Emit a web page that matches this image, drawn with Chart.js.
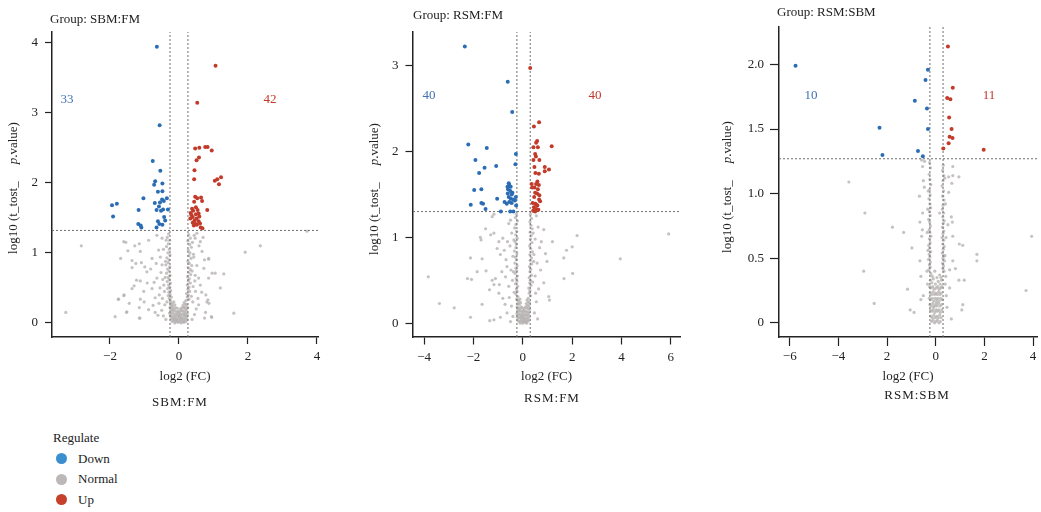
<!DOCTYPE html>
<html>
<head>
<meta charset="utf-8">
<script src="https://cdn.jsdelivr.net/npm/chart.js@4.4.1/dist/chart.umd.min.js"></script>
<style>
  body { margin: 0; background: #fff; width: 1041px; height: 512px; position: relative; overflow: hidden; font-family: "Liberation Serif", serif; color: #222; }
  canvas { position: absolute; top: 0; }
  #c1 { left: 0; }
  #c2 { left: 340px; }
  #c3 { left: 700px; }
  .legend { position: absolute; left: 53px; top: 428px; font-size: 13px; line-height: 20.5px; }
  .legend .item { display: flex; align-items: center; margin-left: 3px; }
  .legend .dot { width: 11px; height: 11px; border-radius: 50%; margin-right: 11px; }
</style>
</head>
<body>
<canvas id="c1" width="340" height="420"></canvas>
<canvas id="c2" width="350" height="420"></canvas>
<canvas id="c3" width="341" height="420"></canvas>
<div class="legend">
  <div>Regulate</div>
  <div class="item"><span class="dot" style="background:#3a8fcf"></span>Down</div>
  <div class="item"><span class="dot" style="background:#bcb8b8"></span>Normal</div>
  <div class="item"><span class="dot" style="background:#c6402b"></span>Up</div>
</div>
<script>
// comparisons and summary numbers
const groups = ['SBM:FM', 'RSM:FM', 'RSM:SBM'];
const downCounts = [33, 40, 10];
const upCounts = [42, 40, 11];
const fcCutoffs = [[-0.26, 0.26], [-0.24, 0.30], [-0.24, 0.30]];
const pCutoffs = [1.32, 1.30, 1.27];

// tick values and labels (the third panel really reads "2" at -2)
const xTicks = [[-2, 0, 2, 4], [-4, -2, 0, 2, 4, 6], [-6, -4, -2, 0, 2, 4]];
const xTickLabels = [['−2', '0', '2', '4'], ['−4', '−2', '0', '2', '4', '6'], ['−6', '−4', '2', '0', '2', '4']];
const yTicks = [[0, 1, 2, 3, 4], [0, 1, 2, 3], [0, 0.5, 1, 1.5, 2]];
const yTickLabels = [['0', '1', '2', '3', '4'], ['0', '1', '2', '3'], ['0', '0.5', '1.0', '1.5', '2.0']];

// ---- SBM:FM  [log2FC, -log10 p]
const down1 = [[-0.64,3.94],[-0.56,2.82],[-0.76,2.31],[-0.54,2.17],[-0.69,2.02],[-0.72,1.97],[-0.48,1.99],[-0.61,1.87],[-0.48,1.88],[-1.03,1.78],[-0.35,1.78],[-0.49,1.76],[-0.44,1.74],[-1.94,1.68],[-1.80,1.70],[-0.70,1.71],[-0.55,1.72],[-0.58,1.66],[-0.65,1.61],[-0.46,1.62],[-0.32,1.62],[-1.17,1.61],[-0.52,1.60],[-1.91,1.52],[-0.43,1.51],[-0.40,1.46],[-0.61,1.45],[-1.18,1.41],[-1.11,1.39],[-1.09,1.36],[-0.48,1.40],[-0.57,1.41],[-0.65,1.36]];
const up1 = [[1.06,3.67],[0.53,3.14],[0.47,2.49],[0.59,2.50],[0.76,2.51],[0.83,2.51],[0.95,2.46],[0.58,2.36],[0.51,2.32],[0.45,2.18],[0.44,2.05],[1.11,2.05],[1.22,2.08],[1.04,2.03],[1.16,1.98],[0.47,1.80],[0.53,1.78],[0.64,1.79],[0.67,1.74],[0.44,1.73],[0.49,1.65],[0.38,1.63],[0.54,1.61],[0.41,1.60],[0.82,1.61],[0.34,1.57],[0.49,1.55],[0.57,1.56],[0.40,1.51],[0.51,1.49],[0.33,1.49],[0.45,1.46],[0.57,1.45],[0.40,1.43],[0.48,1.41],[0.61,1.42],[0.43,1.39],[0.52,1.40],[0.63,1.36],[0.68,1.35],[0.36,1.54],[0.59,1.52]];
const normal1 = [[-2.83,1.10],[-3.28,0.15],[-1.85,0.09],[-1.60,1.16],[-1.48,1.03],[-1.69,0.92],[-1.28,1.10],[-1.15,1.13],[-1.12,1.02],[-1.36,0.89],[-1.25,0.85],[-1.09,0.86],[-1.36,0.79],[-0.99,0.80],[-0.88,1.18],[-0.78,0.92],[-0.82,0.77],[-0.93,0.73],[-1.12,0.60],[-1.30,0.53],[-1.36,0.49],[-0.92,0.57],[-0.78,0.49],[-1.60,0.39],[-1.75,0.34],[-1.02,0.45],[-1.12,0.34],[-1.44,0.28],[-1.01,0.30],[-1.15,0.22],[-0.88,0.19],[-1.51,0.16],[-1.15,0.07],[-0.69,0.15],[-0.61,0.11],[-0.64,0.64],[-0.57,0.40],[-0.69,0.36],[-0.59,1.04],[-0.54,0.94],[-0.49,1.21],[-0.64,1.25],[-0.49,0.83],[-0.44,0.54],[-0.41,0.26],[-1.54,1.15],[-1.59,0.40],[-1.76,0.34],[-1.52,0.15],[-1.23,0.61],[-1.13,0.07],
  [1.92,1.01],[2.36,1.10],[1.59,0.14],[3.71,1.31],[1.30,0.70],[1.20,0.50],[1.05,0.71],[0.96,0.71],[0.86,0.64],[0.74,0.90],[0.86,0.92],[0.62,1.16],[0.67,1.02],[0.72,0.78],[0.78,0.40],[0.81,0.30],[0.94,0.09],[0.74,0.07],[0.57,0.26],[0.62,0.54],[0.52,1.28],[0.47,1.21],[0.43,0.94],[0.47,0.68],[0.57,0.64],[0.84,0.33],[0.87,0.28],[0.77,0.15],[0.95,0.08],[0.86,0.91],
  [-0.30,1.27],[-0.34,1.22],[-0.27,1.18],[-0.31,1.13],[-0.36,1.09],[-0.28,1.05],[-0.32,1.00],[-0.26,0.97],[-0.35,0.93],[-0.29,0.90],[-0.31,0.86],[-0.38,0.83],[-0.27,0.80],[-0.33,0.77],[-0.29,0.74],[-0.36,0.71],[-0.26,0.68],[-0.31,0.65],[-0.28,0.62],[-0.34,0.59],[-0.25,0.57],[-0.30,0.54],[-0.27,0.51],[-0.33,0.49],[-0.24,0.46],[-0.29,0.44],[-0.26,0.41],[-0.31,0.39],[-0.22,0.37],[-0.28,0.35],[-0.25,0.32],[-0.35,0.30],[-0.40,0.65],[-0.42,0.45],[-0.39,0.88],[-0.45,1.05],[-0.37,1.18],
  [0.28,1.26],[0.33,1.21],[0.26,1.17],[0.31,1.12],[0.36,1.08],[0.27,1.04],[0.32,1.00],[0.29,0.96],[0.35,0.92],[0.26,0.88],[0.30,0.85],[0.37,0.82],[0.27,0.79],[0.33,0.76],[0.28,0.72],[0.34,0.69],[0.25,0.66],[0.30,0.63],[0.27,0.60],[0.33,0.57],[0.24,0.54],[0.29,0.51],[0.26,0.48],[0.31,0.45],[0.22,0.42],[0.27,0.40],[0.24,0.37],[0.29,0.34],[0.20,0.32],[0.39,1.15],[0.42,0.98],[0.38,0.74],[0.41,0.52],[0.36,0.38],[0.44,1.25],[0.40,0.30],
  [-0.25,0.29],[-0.20,0.28],[-0.15,0.30],[0.15,0.29],[0.19,0.27],[-0.23,0.25],[-0.18,0.24],[-0.12,0.26],[0.12,0.25],[0.17,0.23],[0.22,0.26],[-0.26,0.22],[-0.21,0.21],[-0.16,0.20],[-0.10,0.22],[-0.05,0.21],[0.04,0.20],[0.09,0.22],[0.14,0.21],[0.20,0.20],[0.25,0.22],[-0.24,0.18],[-0.19,0.17],[-0.13,0.18],[-0.08,0.16],[-0.03,0.17],[0.02,0.16],[0.07,0.18],[0.11,0.17],[0.16,0.16],[0.21,0.18],[-0.27,0.14],[-0.22,0.13],[-0.17,0.14],[-0.11,0.12],[-0.06,0.13],[0.00,0.14],[0.05,0.12],[0.10,0.13],[0.15,0.12],[0.19,0.14],[0.24,0.13],[-0.25,0.10],[-0.20,0.09],[-0.14,0.10],[-0.09,0.08],[-0.04,0.10],[0.01,0.09],[0.06,0.10],[0.12,0.08],[0.17,0.10],[0.22,0.09],[-0.23,0.06],[-0.18,0.05],[-0.12,0.06],[-0.07,0.05],[-0.02,0.06],[0.03,0.05],[0.08,0.06],[0.13,0.05],[0.18,0.06],[0.23,0.05],[-0.20,0.02],[-0.15,0.03],[-0.10,0.02],[-0.05,0.03],[0.00,0.02],[0.05,0.03],[0.10,0.02],[0.15,0.03],[0.20,0.02],[-0.12,0.00],[-0.03,0.01],[0.06,0.00],[0.14,0.01],[-0.08,0.04],[0.04,0.07],[-0.01,0.11],[-0.16,0.07],[0.18,0.11],
  [-0.52,0.72],[-0.47,0.62],[-0.55,0.50],[-0.48,0.35],[-0.58,0.28],[-0.50,0.18],[-0.45,0.10],[-0.38,0.05],[0.38,0.05],[0.45,0.12],[0.50,0.20],[0.55,0.35],[0.48,0.45],[0.52,0.82],[0.46,0.60],[0.58,1.10],[-0.72,0.58],[-0.66,0.85],[-0.75,0.25],[0.66,0.44],[0.70,1.22]];

// ---- RSM:FM
const down2 = [[-2.35,3.22],[-0.61,2.81],[-0.43,2.46],[-2.21,2.08],[-1.46,2.04],[-0.28,1.97],[-1.92,1.90],[-0.30,1.85],[-1.08,1.83],[-1.55,1.81],[-1.77,1.75],[-0.55,1.61],[-0.49,1.59],[-1.97,1.55],[-1.68,1.56],[-0.60,1.56],[-0.51,1.54],[-0.61,1.51],[-0.45,1.50],[-0.28,1.47],[-0.57,1.47],[-1.04,1.45],[-0.49,1.45],[-0.32,1.43],[-0.74,1.41],[-0.55,1.41],[-0.45,1.40],[-2.11,1.38],[-1.68,1.40],[-1.61,1.39],[-0.27,1.37],[-1.51,1.33],[-0.89,1.30],[-0.51,1.30],[-0.38,1.30],[-0.65,1.39],[-0.39,1.44],[-0.62,1.59],[-0.57,1.63],[-0.42,1.52]];
const up2 = [[0.30,2.97],[0.66,2.34],[0.45,2.29],[0.58,2.12],[0.54,2.10],[1.17,2.06],[0.43,2.05],[0.61,2.05],[0.50,1.97],[0.53,1.94],[0.43,1.90],[0.67,1.90],[0.89,1.82],[1.06,1.79],[0.89,1.77],[0.51,1.75],[0.65,1.74],[0.36,1.62],[0.54,1.62],[0.65,1.61],[0.47,1.58],[0.61,1.56],[0.50,1.52],[0.58,1.51],[0.66,1.44],[0.70,1.42],[0.40,1.40],[0.51,1.39],[0.59,1.37],[0.45,1.35],[0.54,1.33],[0.63,1.32],[0.42,1.31],[0.50,1.30],[0.38,1.58],[0.59,1.65],[0.46,1.47],[0.67,1.49],[0.55,1.38],[0.47,1.82]];
const normal2 = [[5.91,1.04],[3.95,0.75],[2.20,1.02],[2.00,0.89],[1.77,0.85],[1.66,0.76],[2.02,0.58],[1.67,0.52],[1.05,0.31],[1.08,0.27],[0.98,0.72],[0.92,0.81],[0.85,0.47],[0.85,1.09],[-3.83,0.54],[-3.38,0.23],[-2.78,0.18],[-2.12,0.07],[-2.12,0.76],[-1.65,0.75],[-1.72,1.00],[-1.69,0.97],[-1.51,1.10],[-1.30,1.03],[-1.17,1.05],[-0.97,0.95],[-0.81,0.99],[-2.24,0.52],[-2.08,0.51],[-1.85,0.60],[-1.49,0.61],[-1.24,0.50],[-1.11,0.52],[-1.35,0.39],[-1.17,0.45],[-1.65,0.22],[-1.34,0.03],[-1.17,0.04],[-0.91,0.07],[-0.97,0.35],[-0.81,0.29],[-0.64,0.12],[-1.04,0.87],[-0.91,0.80],[-0.68,0.74],[-0.64,0.66],[-0.57,0.43],[-0.70,0.54],[-1.24,1.24],[-1.17,1.27],[-0.57,1.16],[-0.50,1.20],
  [0.55,1.25],[0.62,1.12],[0.50,0.98],[0.68,0.88],[0.58,0.70],[0.72,0.62],[0.50,0.55],[0.64,0.40],[0.55,0.25],[0.47,0.12],[0.60,0.05],[0.75,0.95],[0.45,0.80],[0.52,0.35],[1.20,0.95],
  [-0.45,1.05],[-0.52,0.90],[-0.40,0.78],[-0.48,0.62],[-0.42,0.50],[-0.55,0.30],[-0.46,0.20],[-0.40,0.08],[-0.62,0.95],[-0.75,0.85],[-0.85,0.60],[-0.95,0.45],[-0.72,0.22],[-0.50,0.02],
  [-0.26,1.27],[-0.30,1.23],[-0.22,1.19],[-0.28,1.15],[-0.33,1.11],[-0.25,1.07],[-0.29,1.03],[-0.23,0.99],[-0.31,0.95],[-0.26,0.92],[-0.28,0.88],[-0.34,0.84],[-0.24,0.81],[-0.30,0.77],[-0.26,0.74],[-0.32,0.70],[-0.23,0.67],[-0.28,0.64],[-0.25,0.61],[-0.31,0.58],[-0.22,0.55],[-0.27,0.52],[-0.24,0.49],[-0.30,0.46],[-0.21,0.43],[-0.26,0.40],[-0.23,0.37],[-0.28,0.34],[-0.20,0.31],[-0.25,0.28],[-0.36,0.97],[-0.38,0.60],[-0.35,0.36],
  [0.31,1.27],[0.35,1.22],[0.29,1.18],[0.33,1.14],[0.38,1.10],[0.30,1.06],[0.34,1.02],[0.31,0.98],[0.37,0.94],[0.28,0.90],[0.32,0.87],[0.39,0.83],[0.29,0.80],[0.35,0.76],[0.30,0.73],[0.36,0.69],[0.27,0.66],[0.32,0.63],[0.29,0.60],[0.35,0.56],[0.26,0.53],[0.31,0.50],[0.28,0.47],[0.33,0.44],[0.24,0.41],[0.29,0.38],[0.26,0.35],[0.31,0.32],[0.22,0.29],[0.42,1.05],[0.44,0.72],[0.40,0.48],
  [-0.22,0.27],[-0.17,0.26],[-0.12,0.28],[0.17,0.27],[0.22,0.25],[0.27,0.24],[-0.20,0.23],[-0.15,0.22],[-0.09,0.24],[0.14,0.23],[0.19,0.21],[0.25,0.20],[-0.23,0.19],[-0.18,0.18],[-0.13,0.17],[-0.07,0.19],[-0.02,0.18],[0.06,0.17],[0.11,0.19],[0.16,0.18],[0.22,0.17],[0.27,0.16],[-0.21,0.15],[-0.16,0.14],[-0.10,0.15],[-0.05,0.13],[0.00,0.14],[0.04,0.15],[0.09,0.13],[0.14,0.14],[0.19,0.13],[0.24,0.12],[-0.24,0.11],[-0.19,0.10],[-0.14,0.11],[-0.08,0.09],[-0.03,0.10],[0.02,0.11],[0.07,0.09],[0.12,0.10],[0.17,0.09],[0.22,0.10],[-0.22,0.07],[-0.17,0.06],[-0.11,0.07],[-0.06,0.05],[-0.01,0.06],[0.04,0.07],[0.09,0.05],[0.15,0.06],[0.20,0.05],[0.25,0.07],[-0.19,0.03],[-0.14,0.02],[-0.08,0.03],[-0.03,0.02],[0.02,0.03],[0.07,0.02],[0.12,0.03],[0.18,0.02],[0.23,0.03],[-0.10,0.00],[0.00,0.00],[0.10,0.01],[0.16,0.00],[-0.05,0.08],[0.05,0.04]];

// ---- RSM:SBM
const down3 = [[-5.76,1.99],[-0.32,1.96],[-0.42,1.88],[-0.86,1.72],[-0.36,1.66],[-2.31,1.51],[-0.32,1.50],[-2.19,1.30],[-0.73,1.33],[-0.53,1.29]];
const up3 = [[0.50,2.14],[0.70,1.82],[0.47,1.74],[0.60,1.73],[0.55,1.59],[0.65,1.50],[0.57,1.44],[0.69,1.43],[0.53,1.39],[0.31,1.35],[1.97,1.34]];
const normal3 = [[-3.57,1.09],[-2.91,0.85],[-2.96,0.40],[-2.53,0.15],[-1.78,0.74],[-1.32,0.70],[-0.98,0.58],[-1.16,0.26],[-1.05,0.10],[-0.89,0.08],[3.94,0.67],[3.71,0.25],[1.69,0.53],[1.69,0.48],[0.97,0.61],[1.11,0.60],[0.95,0.33],[1.17,0.33],[1.11,0.14],[1.07,0.10],[0.70,1.21],[0.95,1.13],[0.70,1.14],[0.53,1.13],[0.66,1.08],[0.53,1.01],[0.64,0.82],[0.68,0.78],[0.50,0.76],[0.70,0.67],[0.70,0.48],[0.81,0.42],[0.57,0.41],[0.57,0.27],[0.43,0.21],[0.46,0.12],[0.64,0.03],[-0.54,1.21],[-0.51,1.10],[-0.47,1.05],[-0.67,0.98],[-0.54,0.85],[-0.65,0.78],[-0.55,0.72],[-0.58,0.67],[-0.65,0.48],[-0.61,0.36],[-0.51,0.21],[-0.61,0.18],[0.16,0.85],[-0.58,1.26],[-0.46,1.25],
  [-0.25,1.24],[-0.22,1.20],[-0.27,1.15],[-0.24,1.11],[-0.20,1.07],[-0.26,1.03],[-0.23,0.99],[-0.28,0.96],[-0.24,0.92],[-0.21,0.89],[-0.26,0.86],[-0.23,0.83],[-0.29,0.80],[-0.25,0.78],[-0.22,0.75],[-0.27,0.72],[-0.24,0.70],[-0.20,0.67],[-0.26,0.65],[-0.23,0.62],[-0.29,0.60],[-0.25,0.58],[-0.21,0.55],[-0.27,0.53],[-0.24,0.51],[-0.30,0.49],[-0.22,0.47],[-0.26,0.45],[-0.23,0.43],[-0.28,0.41],[-0.33,0.88],[-0.35,0.70],[-0.32,0.56],[-0.36,0.40],[-0.31,1.02],[-0.34,0.30],
  [0.31,1.22],[0.28,1.18],[0.33,1.14],[0.30,1.10],[0.26,1.06],[0.32,1.02],[0.29,0.98],[0.34,0.95],[0.30,0.91],[0.27,0.88],[0.32,0.85],[0.29,0.82],[0.35,0.79],[0.31,0.77],[0.28,0.74],[0.33,0.71],[0.30,0.69],[0.26,0.66],[0.32,0.64],[0.29,0.61],[0.35,0.59],[0.31,0.57],[0.27,0.54],[0.33,0.52],[0.30,0.50],[0.36,0.48],[0.28,0.46],[0.32,0.44],[0.29,0.42],[0.34,0.40],[0.40,0.92],[0.42,0.66],[0.38,0.52],[0.41,0.36],[0.37,1.12],[0.39,0.30],
  [-0.20,0.38],[-0.14,0.36],[0.16,0.37],[0.22,0.35],[-0.22,0.33],[-0.16,0.31],[-0.10,0.34],[0.10,0.32],[0.18,0.30],[0.24,0.33],[-0.25,0.28],[-0.19,0.27],[-0.12,0.28],[-0.06,0.26],[0.02,0.27],[0.08,0.28],[0.14,0.26],[0.20,0.27],[0.26,0.28],[-0.23,0.23],[-0.17,0.22],[-0.11,0.24],[-0.05,0.22],[0.00,0.23],[0.06,0.22],[0.12,0.24],[0.17,0.22],[0.23,0.23],[-0.26,0.19],[-0.20,0.18],[-0.14,0.19],[-0.08,0.17],[-0.02,0.19],[0.04,0.18],[0.09,0.19],[0.15,0.17],[0.21,0.19],[0.27,0.18],[-0.24,0.14],[-0.18,0.13],[-0.12,0.15],[-0.06,0.13],[0.00,0.14],[0.05,0.13],[0.11,0.15],[0.17,0.13],[0.23,0.14],[-0.22,0.10],[-0.16,0.09],[-0.10,0.10],[-0.04,0.08],[0.02,0.10],[0.07,0.09],[0.13,0.10],[0.19,0.08],[0.25,0.10],[-0.20,0.05],[-0.14,0.04],[-0.08,0.06],[-0.02,0.04],[0.04,0.05],[0.10,0.04],[0.16,0.06],[0.22,0.04],[-0.17,0.01],[-0.11,0.02],[-0.05,0.00],[0.01,0.01],[0.07,0.02],[0.13,0.00],[0.19,0.01],[-0.09,0.12],[0.03,0.16],[-0.01,0.30],[0.05,0.35],[-0.04,0.40]];

const downSets = [down1, down2, down3];
const upSets = [up1, up2, up3];
const normalSets = [normal1, normal2, normal3];

// panel geometry (layout only)
const panels = [
  { id: 'c1', xMin: -3.68, xMax: 4.03, yMin: -0.2, yMax: 4.15, yAxisW: 52, padRight: 22, padTop: 32, xAxisH: 83, tick: 7, yPad: 7, xPad: 5,
    groupPos: [50, 20], downPos: [67, 100], upPos: [270, 100], subPos: [180, 403], yTitlePos: [14, 188] },
  { id: 'c2', xMin: -4.45, xMax: 6.37, yMin: -0.16, yMax: 3.39, yAxisW: 73, padRight: 10, padTop: 32, xAxisH: 83, tick: 7.5, yPad: 7, xPad: 5,
    groupPos: [73, 16], downPos: [89, 96], upPos: [255, 96], subPos: [212, 399], yTitlePos: [35, 189] },
  { id: 'c3', xMin: -6.44, xMax: 4.16, yMin: -0.11, yMax: 2.29, yAxisW: 79, padRight: 0, padTop: 27, xAxisH: 83, tick: 9, yPad: 6, xPad: 3,
    groupPos: [77, 13], downPos: [111, 96], upPos: [289, 96], subPos: [217, 396], yTitlePos: [28, 187] }
];

const BLUE = '#2b6db4', RED = '#c23b2a', GREY = 'rgba(184,179,179,0.8)';
const toXY = arr => arr.map(p => ({ x: p[0], y: p[1] }));
const FONT = '13px "Liberation Serif", serif';

Chart.defaults.font.family = '"Liberation Serif", "DejaVu Serif", serif';
Chart.defaults.font.size = 13;
Chart.defaults.color = '#222';

// text that Chart.js has no slot for: group title, counts, subtitle, y title with italic p
const panelText = {
  id: 'panelText',
  afterDraw(chart, args, o) {
    const ctx = chart.ctx;
    ctx.save();
    ctx.font = FONT;
    ctx.textBaseline = 'middle';
    ctx.fillStyle = '#222';
    ctx.textAlign = 'left';
    ctx.fillText('Group: ' + o.group, o.p.groupPos[0], o.p.groupPos[1]);
    ctx.textAlign = 'center';
    ctx.fillStyle = '#3f70b5';
    ctx.fillText(String(o.down), o.p.downPos[0], o.p.downPos[1]);
    ctx.fillStyle = '#c0392b';
    ctx.fillText(String(o.up), o.p.upPos[0], o.p.upPos[1]);
    ctx.fillStyle = '#222';

    // rotated y title: "log10 (t_tost_   p.value)"
    const a = 'log10 (t_tost_', gap = 17, b = 'p', c = '.value)';
    ctx.save();
    ctx.translate(o.p.yTitlePos[0], o.p.yTitlePos[1]);
    ctx.rotate(-Math.PI / 2);
    ctx.textAlign = 'left';
    ctx.font = FONT;
    const wa = ctx.measureText(a).width;
    const wc = ctx.measureText(c).width;
    ctx.font = 'italic ' + FONT;
    const wb = ctx.measureText(b).width;
    let x = -(wa + gap + wb + wc) / 2;
    ctx.font = FONT;
    ctx.fillText(a, x, 0);
    x += wa + gap;
    ctx.font = 'italic ' + FONT;
    ctx.fillText(b, x, 0);
    x += wb;
    ctx.font = FONT;
    ctx.fillText(c, x, 0);
    ctx.restore();

    ctx.letterSpacing = '1px';
    ctx.fillText(o.group, o.p.subPos[0], o.p.subPos[1]);
    ctx.restore();
  }
};

panels.forEach((p, k) => {
  const cut = fcCutoffs[k];
  const dash = { type: 'line', pointRadius: 0, borderColor: '#6e6e6e', borderWidth: 1, borderDash: [2, 2], order: 1 };
  new Chart(document.getElementById(p.id), {
    type: 'scatter',
    data: {
      datasets: [
        { label: 'Up', data: toXY(upSets[k]), backgroundColor: RED, pointRadius: 2, borderWidth: 0, order: 0 },
        { label: 'Down', data: toXY(downSets[k]), backgroundColor: BLUE, pointRadius: 2, borderWidth: 0, order: 0 },
        Object.assign({ label: 'fc-', data: [{ x: cut[0], y: p.yMin }, { x: cut[0], y: p.yMax }] }, dash),
        Object.assign({ label: 'fc+', data: [{ x: cut[1], y: p.yMin }, { x: cut[1], y: p.yMax }] }, dash),
        Object.assign({ label: 'p', data: [{ x: p.xMin, y: pCutoffs[k] }, { x: p.xMax, y: pCutoffs[k] }] }, dash),
        { label: 'Normal', data: toXY(normalSets[k]), backgroundColor: GREY, pointRadius: 1.6, borderWidth: 0, order: 2 }
      ]
    },
    options: {
      responsive: false,
      animation: false,
      devicePixelRatio: 1,
      layout: { padding: { left: 0, right: p.padRight, top: p.padTop, bottom: 0 } },
      plugins: {
        legend: { display: false },
        tooltip: { enabled: false },
        panelText: { group: groups[k], down: downCounts[k], up: upCounts[k], p: p }
      },
      scales: {
        x: {
          type: 'linear', min: p.xMin, max: p.xMax,
          afterBuildTicks: s => { s.ticks = xTicks[k].map(v => ({ value: v })); },
          afterFit: s => { s.height = p.xAxisH; },
          ticks: { callback: (v, i) => xTickLabels[k][i], padding: p.xPad, color: '#222', maxRotation: 0, autoSkip: false },
          grid: { display: true, drawOnChartArea: false, drawTicks: true, tickLength: p.tick, tickColor: '#222', tickWidth: 1.2 },
          border: { display: true, color: '#222', width: 1.5 },
          title: { display: true, text: 'log2 (FC)', color: '#222', padding: { top: 0, bottom: 36 } }
        },
        y: {
          type: 'linear', min: p.yMin, max: p.yMax,
          afterBuildTicks: s => { s.ticks = yTicks[k].map(v => ({ value: v })); },
          afterFit: s => { s.width = p.yAxisW; },
          ticks: { callback: (v, i) => yTickLabels[k][i], padding: p.yPad, color: '#222', autoSkip: false },
          grid: { display: true, drawOnChartArea: false, drawTicks: true, tickLength: p.tick, tickColor: '#222', tickWidth: 1.2 },
          border: { display: true, color: '#222', width: 1.5 }
        }
      }
    },
    plugins: [panelText]
  });
});
</script>
</body>
</html>
